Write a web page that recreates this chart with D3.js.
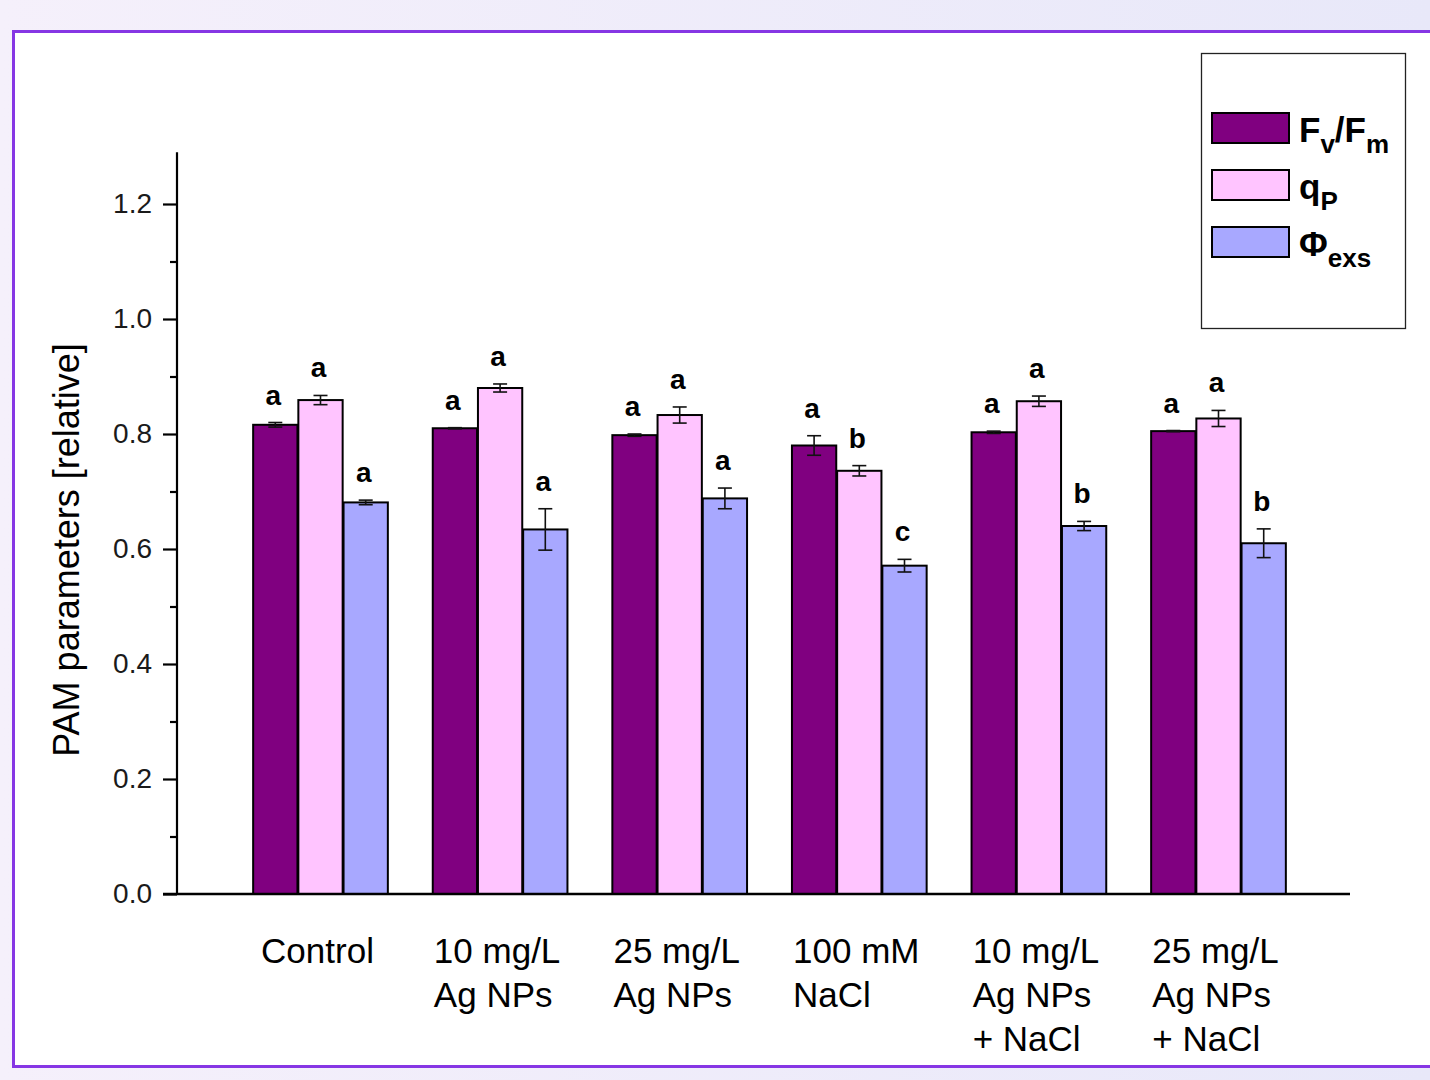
<!DOCTYPE html>
<html>
<head>
<meta charset="utf-8">
<script src="https://cdn.jsdelivr.net/npm/d3@7"></script>
<style>
  html, body { margin: 0; padding: 0; }
  body { width: 1430px; height: 1080px; overflow: hidden; }
  svg text { font-family: "Liberation Sans", Arial, sans-serif; }
</style>
</head>
<body>
<svg id="chart" width="1430" height="1080"></svg>
<script>
// Treatments (x categories) and their multi-line labels
const categories = ["Control", "10 mg/L Ag NPs", "25 mg/L Ag NPs", "100 mM NaCl", "10 mg/L Ag NPs + NaCl", "25 mg/L Ag NPs + NaCl"];
const categoryLines = [["Control"], ["10 mg/L", "Ag NPs"], ["25 mg/L", "Ag NPs"], ["100 mM", "NaCl"], ["10 mg/L", "Ag NPs", "+ NaCl"], ["25 mg/L", "Ag NPs", "+ NaCl"]];

const seriesKeys = ["FvFm", "qP", "Phi"];

// Means
const fvfm = [0.816, 0.810, 0.798, 0.780, 0.803, 0.805];
const qP   = [0.859, 0.880, 0.833, 0.736, 0.857, 0.827];
const phi  = [0.681, 0.634, 0.688, 0.571, 0.640, 0.610];

// Standard errors
const fvfmErr = [0.004, 0.001, 0.002, 0.017, 0.002, 0.001];
const qPErr   = [0.008, 0.007, 0.014, 0.009, 0.009, 0.014];
const phiErr  = [0.004, 0.036, 0.018, 0.011, 0.008, 0.025];

// Significance letters
const fvfmSig = ["a", "a", "a", "a", "a", "a"];
const qPSig   = ["a", "a", "a", "b", "a", "a"];
const phiSig  = ["a", "a", "a", "c", "b", "b"];

// Y axis ticks
const yTicks = [0, 0.2, 0.4, 0.6, 0.8, 1.0, 1.2];
const yMinorTicks = [0.1, 0.3, 0.5, 0.7, 0.9, 1.1];

const seriesColors = { FvFm: "#800080", qP: "#ffc4ff", Phi: "#a8a8ff" };

const series = [
  { key: "FvFm", values: fvfm, err: fvfmErr, sig: fvfmSig },
  { key: "qP",   values: qP,   err: qPErr,   sig: qPSig },
  { key: "Phi",  values: phi,  err: phiErr,  sig: phiSig }
];

const svg = d3.select("#chart");

// Page background and framed panel
const defs = svg.append("defs");
const bg = defs.append("linearGradient").attr("id", "bgGrad").attr("x1", "0").attr("y1", "0").attr("x2", "1").attr("y2", "0");
bg.append("stop").attr("offset", "0").attr("stop-color", "#f5f0fb");
bg.append("stop").attr("offset", "1").attr("stop-color", "#e8e8f9");
svg.append("rect").attr("width", 1430).attr("height", 1080).attr("fill", "url(#bgGrad)");
svg.append("rect").attr("x", 13.5).attr("y", 31.5).attr("width", 1440).attr("height", 1035)
  .attr("fill", "#ffffff").attr("stroke", "#8636e4").attr("stroke-width", 3);

// Scales
const y = d3.scaleLinear().domain([0, 1.29]).range([894, 894 - 1.29 * 575]);
const x0 = d3.scaleBand().domain(categories).range([230.7, 1308.3]).paddingInner(0.25).paddingOuter(0.125);
const x1 = d3.scaleBand().domain(seriesKeys).range([0, x0.bandwidth()]).paddingInner(0.02);

const axisX = 177;

// Bars
const groups = svg.append("g").selectAll("g").data(categories).join("g")
  .attr("transform", d => `translate(${x0(d)},0)`);

series.forEach(s => {
  groups.append("rect")
    .attr("x", x1(s.key))
    .attr("y", (d, i) => y(s.values[i]))
    .attr("width", x1.bandwidth())
    .attr("height", (d, i) => y(0) - y(s.values[i]))
    .attr("fill", seriesColors[s.key])
    .attr("stroke", "#000")
    .attr("stroke-width", 2);
});

// Error bars
series.forEach(s => {
  const cx = x1(s.key) + x1.bandwidth() / 2;
  const eb = groups.append("g").attr("stroke", "#111").attr("stroke-width", 1.6);
  eb.append("line").attr("x1", cx).attr("x2", cx)
    .attr("y1", (d, i) => y(s.values[i] + s.err[i]))
    .attr("y2", (d, i) => y(s.values[i] - s.err[i]));
  eb.append("line").attr("x1", cx - 7).attr("x2", cx + 7)
    .attr("y1", (d, i) => y(s.values[i] + s.err[i]))
    .attr("y2", (d, i) => y(s.values[i] + s.err[i]));
  eb.append("line").attr("x1", cx - 7).attr("x2", cx + 7)
    .attr("y1", (d, i) => y(s.values[i] - s.err[i]))
    .attr("y2", (d, i) => y(s.values[i] - s.err[i]));
});

// Significance letters
series.forEach(s => {
  const cx = x1(s.key) + x1.bandwidth() / 2;
  groups.append("text")
    .attr("x", cx - 2)
    .attr("y", (d, i) => y(s.values[i] + s.err[i]) - 18)
    .attr("text-anchor", "middle")
    .attr("font-size", 28)
    .attr("font-weight", "bold")
    .attr("fill", "#000")
    .text((d, i) => s.sig[i]);
});

// Y axis
const yAxis = svg.append("g").attr("transform", `translate(${axisX},0)`)
  .call(d3.axisLeft(y).tickValues(yTicks).tickFormat(d3.format(".1f")).tickSize(14).tickPadding(11));
yAxis.select(".domain").attr("stroke", "#000").attr("stroke-width", 2.2)
  .attr("d", `M0,${y(0)}V${y(1.29)}`);
yAxis.selectAll(".tick line").attr("stroke", "#000").attr("stroke-width", 2.2);
yAxis.selectAll(".tick text").attr("font-size", 28).attr("fill", "#1a1a1a")
  .style("font-family", "'Liberation Sans', Arial, sans-serif");

const yMinor = svg.append("g").attr("transform", `translate(${axisX},0)`)
  .call(d3.axisLeft(y).tickValues(yMinorTicks).tickFormat("").tickSize(7));
yMinor.select(".domain").remove();
yMinor.selectAll(".tick line").attr("stroke", "#000").attr("stroke-width", 2.2);

// X axis baseline
svg.append("line").attr("x1", axisX - 14).attr("x2", 1350).attr("y1", y(0)).attr("y2", y(0))
  .attr("stroke", "#000").attr("stroke-width", 2.4);

// Category labels: left-aligned lines, block centred under each group
const catLabels = svg.append("g").selectAll("text").data(categories).join("text")
  .attr("font-size", 35).attr("fill", "#000");
catLabels.each(function(d, i) {
  const t = d3.select(this);
  categoryLines[i].forEach((line, k) => {
    t.append("tspan").attr("y", 963 + k * 44).text(line);
  });
  let w = 0;
  t.selectAll("tspan").each(function() { w = Math.max(w, this.getComputedTextLength()); });
  const left = x0(d) + x0.bandwidth() / 2 - w / 2 - 3;
  t.selectAll("tspan").attr("x", left);
});

// Y axis title
svg.append("text")
  .attr("transform", `translate(79,550) rotate(-90)`)
  .attr("text-anchor", "middle")
  .attr("font-size", 36)
  .attr("fill", "#000")
  .text("PAM parameters [relative]");

// Legend
const legend = svg.append("g");
legend.append("rect").attr("x", 1201.5).attr("y", 53.5).attr("width", 204).attr("height", 275)
  .attr("fill", "#fff").attr("stroke", "#222").attr("stroke-width", 1.3);

const legendItems = [
  { key: "FvFm", main: "F", sub: "v", main2: "/F", sub2: "m" },
  { key: "qP", main: "q", sub: "P" },
  { key: "Phi", main: "\u03A6", sub: "exs" }
];
legendItems.forEach((it, i) => {
  const ty = 113 + i * 57;
  legend.append("rect").attr("x", 1212).attr("y", ty).attr("width", 77).attr("height", 30)
    .attr("fill", seriesColors[it.key]).attr("stroke", "#000").attr("stroke-width", 2);
  const t = legend.append("text").attr("x", 1299).attr("y", ty + 29)
    .attr("font-weight", "bold").attr("font-size", 35).attr("fill", "#000");
  t.append("tspan").text(it.main);
  t.append("tspan").attr("font-size", 26).attr("dy", 11).text(it.sub);
  if (it.main2) {
    t.append("tspan").attr("dy", -11).text(it.main2);
    t.append("tspan").attr("font-size", 26).attr("dy", 11).text(it.sub2);
  }
});
</script>
</body>
</html>
